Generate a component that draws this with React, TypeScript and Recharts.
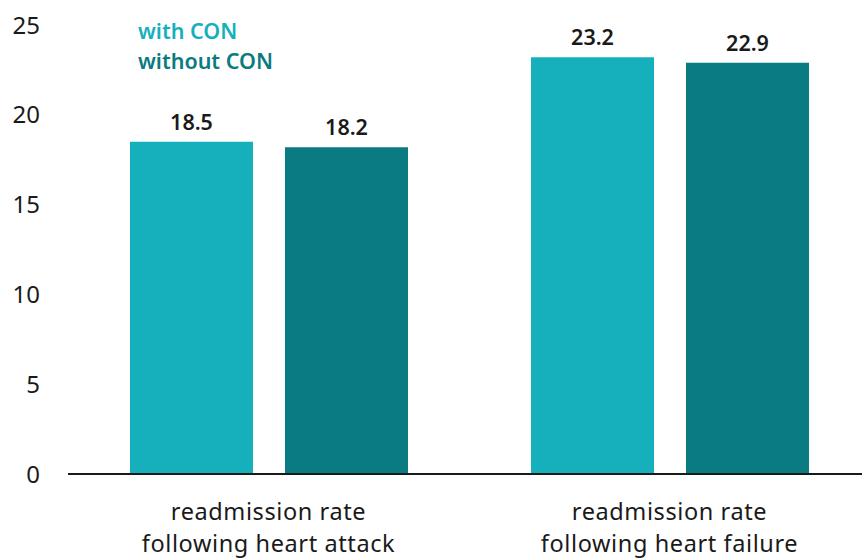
import { BarChart, Bar, XAxis, YAxis, LabelList } from 'recharts'

const categories = ['readmission rate\nfollowing heart attack', 'readmission rate\nfollowing heart failure']
const withCon = [18.5, 23.2]
const withoutCon = [18.2, 22.9]
const yTicks = [0, 5, 10, 15, 20, 25]
const seriesNames = ['with CON', 'without CON']

const data = categories.map((name, i) => ({ name, withCon: withCon[i], withoutCon: withoutCon[i] }))

const FONT = '"Noto Sans", sans-serif'
const LIGHT = '#16b0bd'
const DARK = '#0a7b80'

function CategoryTick({ x, y, payload }: any) {
  const lines = String(payload.value).split('\n')
  return (
    <text x={x} y={y} textAnchor="middle" fill="#1a1a1a" fontSize={23.5} letterSpacing={0.6} fontFamily={FONT}>
      {lines.map((l, i) => (
        <tspan key={i} x={x} dy={i === 0 ? 38 : 32}>{l}</tspan>
      ))}
    </text>
  )
}

export default function App() {
  return (
    <div style={{ position: 'fixed', left: 0, top: 0, width: 862, height: 559, overflow: 'hidden', background: '#fff' }}>
      <div style={{ position: 'absolute', left: 138, top: 16, fontFamily: FONT, fontWeight: 600, fontSize: 21.5, lineHeight: '30px', zIndex: 1 }}>
        <div style={{ color: LIGHT }}>{seriesNames[0]}</div>
        <div style={{ color: DARK }}>{seriesNames[1]}</div>
      </div>
      <BarChart width={872} height={559} data={data} margin={{ top: 25, right: 2, bottom: 0, left: 0 }} barSize={123} barGap={32}>
        <XAxis
          dataKey="name"
          height={85}
          tickLine={false}
          axisLine={{ stroke: '#1a1a1a', strokeWidth: 2 }}
          tick={<CategoryTick />}
          interval={0}
        />
        <YAxis
          width={68}
          domain={[0, 25]}
          ticks={yTicks}
          axisLine={false}
          tickLine={false}
          tickSize={0}
          tickMargin={28}
          tick={{ fill: '#1a1a1a', fontSize: 24, fontFamily: FONT }}
        />
        <Bar dataKey="withCon" name={seriesNames[0]} fill={LIGHT} isAnimationActive={false}>
          <LabelList dataKey="withCon" position="top" offset={12} fill="#1a1a1a" fontSize={21.5} fontWeight={600} fontFamily={FONT} />
        </Bar>
        <Bar dataKey="withoutCon" name={seriesNames[1]} fill={DARK} isAnimationActive={false}>
          <LabelList dataKey="withoutCon" position="top" offset={12} fill="#1a1a1a" fontSize={21.5} fontWeight={600} fontFamily={FONT} />
        </Bar>
      </BarChart>
    </div>
  )
}
